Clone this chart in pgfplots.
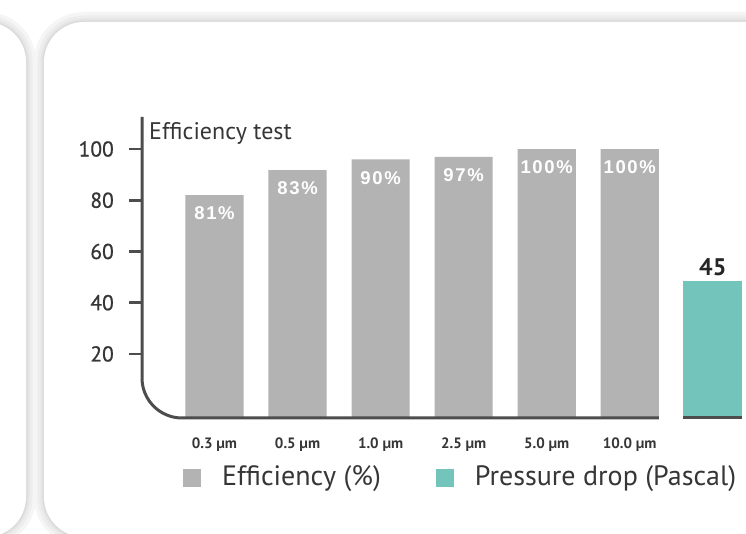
\documentclass[border=0pt]{standalone}
\usepackage{fontspec}
\setmainfont{PT Sans}
\newfontfamily\barfont[LetterSpace=9]{Liberation Sans}
\newfontfamily\tickfont[FakeBold=0.7]{PT Sans}
\usepackage{pgfplots}
\pgfplotsset{compat=1.18}
\definecolor{bargray}{HTML}{B3B3B3}
\definecolor{pteal}{HTML}{73C4BA}
\definecolor{axgray}{HTML}{4D4D4D}
\definecolor{txt}{HTML}{363636}
\begin{document}
\begin{tikzpicture}[x=1pt,y=1pt]
\useasboundingbox (0,0) rectangle (746,534);
\begin{scope}
\clip (0,0) rectangle (746,534);
\fill[white] (0,0) rectangle (746,534);
\foreach \w/\c in {20/black!4, 13/black!7, 7/black!10, 3/black!14} {
  \draw[line width=\w pt, \c, rounded corners=40pt] (44,-3) rectangle (820,512);
  \draw[line width=\w pt, \c, rounded corners=40pt] (-120,-3) rectangle (26,512);
}
\fill[white, rounded corners=40pt] (44,-3) rectangle (820,512);
\fill[white, rounded corners=40pt] (-120,-3) rectangle (26,512);
\end{scope}

\begin{axis}[
  at={(142pt,116pt)}, anchor=south west, scale only axis,
  width=604pt, height=301pt,
  xmin=-0.873, xmax=6.4, ymin=-5, ymax=112.5,
  clip=false,
  axis lines*=left, axis line style={draw=none},
  ytick={20,40,60,80,100},
  xtick={0,1,2,3,4,5},
  xticklabels={0.3 µm,0.5 µm,1.0 µm,2.5 µm,5.0 µm,10.0 µm},
  tick align=outside, major tick length=13pt,
  ytick style={line width=2.8pt, axgray},
  xtick style={draw=none},
  /pgf/number format/assume math mode=true,
  yticklabel style={font=\tickfont\fontsize{21.5}{21.5}\selectfont, text=txt, anchor=east, inner sep=0pt, xshift=-15pt},
  xticklabel style={font=\fontsize{15}{15}\selectfont\bfseries, text=txt, anchor=center, yshift=-14pt},
  legend columns=2,
  legend style={at={(0.0679,-0.195)}, anchor=west, draw=none, fill=none,
    inner sep=0pt, outer sep=0pt,
    font=\fontsize{28}{28}\selectfont, text=txt,
    nodes={inner sep=0pt},
    /tikz/every odd column/.append style={column sep=21pt},
    /tikz/every even column/.append style={column sep=55pt}},
  legend image code/.code={\fill[#1] (0pt,-10pt) rectangle (18pt,8pt);},
]
% efficiency bars, drawn from the baseline (-5)
\addplot[fill=bargray, draw=none, forget plot] coordinates {
  (-0.35,-5) (-0.35,82.0) (0.35,82.0) (0.35,-5)
  (0.65,-5) (0.65,91.8) (1.35,91.8) (1.35,-5)
  (1.65,-5) (1.65,96.0) (2.35,96.0) (2.35,-5)
  (2.65,-5) (2.65,96.9) (3.35,96.9) (3.35,-5)
  (3.65,-5) (3.65,100) (4.35,100) (4.35,-5)
  (4.65,-5) (4.65,100) (5.35,100) (5.35,-5)
} -- cycle;
\addplot[only marks, mark=*, mark size=0pt, mark options={draw=none, fill=none}, forget plot,
  nodes near coords, point meta=explicit symbolic,
  nodes near coords style={font=\barfont\bfseries\fontsize{18.5}{18.5}\selectfont, text=white, anchor=center, yshift=-18.5pt}]
  coordinates {(0,82.0)[81\%] (1,91.8)[83\%] (2,96.0)[90\%] (3,96.9)[97\%] (4,100)[100\%] (5,100)[100\%]};
\addlegendimage{fill=bargray, draw=none}
\addlegendentry{Efficiency (\%)}
\addlegendimage{fill=pteal, draw=none}
\addlegendentry{Pressure drop (Pascal)}
\draw[line width=3pt, axgray, rounded corners=40pt] (axis cs:-0.873,112.5) -- (axis cs:-0.873,-5) -- (axis cs:5.35,-5);
\end{axis}

\begin{axis}[
  at={(142pt,116pt)}, anchor=south west, scale only axis,
  width=604pt, height=301pt,
  xmin=-0.873, xmax=6.4, ymin=0, ymax=98.87,
  clip=false, hide axis,
]
\addplot[ybar, bar width=59pt, fill=pteal, draw=none,
  nodes near coords,
  nodes near coords style={font=\bfseries\fontsize{24}{24}\selectfont, text=black!85, anchor=center, yshift=14pt},
  /pgf/number format/assume math mode=true]
  coordinates {(6,45)};
\draw[line width=3pt, axgray] (axis cs:5.645,0) -- (axis cs:6.355,0);
\end{axis}

\node[anchor=base west, inner sep=0pt, font=\fontsize{24}{24}\selectfont, text=txt] at (149,394) {Efficiency test};
\end{tikzpicture}
\end{document}
